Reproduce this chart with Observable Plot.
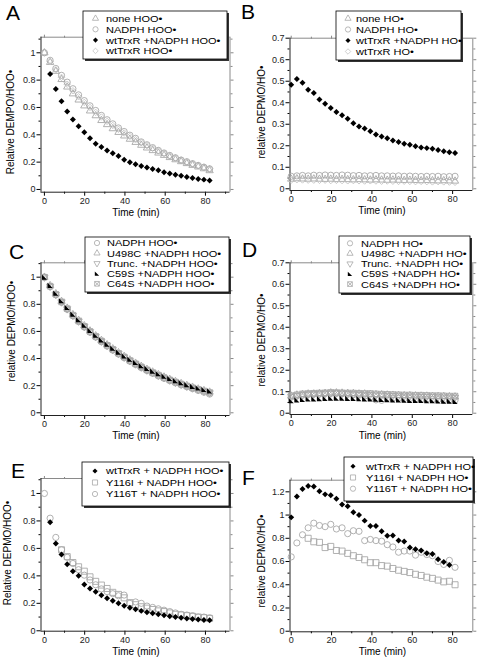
<!DOCTYPE html>
<html><head><meta charset="utf-8">
<script src="https://cdn.jsdelivr.net/npm/d3@7"></script>
<script src="https://cdn.jsdelivr.net/npm/@observablehq/plot@0.6"></script>
<style>
html,body{margin:0;padding:0;background:#fff;}
#fig{position:relative;width:477px;height:658px;overflow:hidden;font-family:"Liberation Sans",Arial,Helvetica,sans-serif;}
</style></head><body><div id="fig"></div>
<script>
// ---------- time axes (min) ----------
const timeA = [0,2.83,5.66,8.49,11.32,14.15,16.98,19.81,22.64,25.47,28.3,31.13,33.96,36.79,39.62,42.45,45.28,48.11,50.94,53.77,56.6,59.43,62.26,65.09,67.92,70.75,73.58,76.41,79.24,82.07];
const timeB = [0,2.8,5.6,8.4,11.2,14,16.8,19.6,22.4,25.2,28,30.8,33.6,36.4,39.2,42,44.8,47.6,50.4,53.2,56,58.8,61.6,64.4,67.2,70,72.8,75.6,78.4,81.2];

// ---------- panel A (HOO•) ----------
const aNone   = [1.0,0.93,0.865,0.805,0.75,0.70,0.655,0.612,0.575,0.54,0.505,0.475,0.445,0.418,0.392,0.368,0.345,0.324,0.304,0.285,0.267,0.25,0.234,0.218,0.204,0.19,0.177,0.165,0.152,0.138];
const aNADPH  = [1.0,0.945,0.885,0.835,0.785,0.737,0.692,0.65,0.612,0.578,0.542,0.51,0.48,0.45,0.424,0.397,0.374,0.348,0.327,0.306,0.286,0.267,0.249,0.232,0.215,0.203,0.189,0.176,0.163,0.151];
const aWTNADPH= [null,0.845,0.735,0.645,0.57,0.512,0.462,0.418,0.375,0.335,0.31,0.285,0.265,0.245,0.218,0.2,0.185,0.172,0.16,0.15,0.14,0.126,0.116,0.107,0.1,0.092,0.083,0.077,0.072,0.066];
const aWT     = [1.0,0.935,0.875,0.82,0.77,0.722,0.678,0.637,0.6,0.564,0.53,0.498,0.468,0.44,0.413,0.388,0.364,0.342,0.321,0.301,0.282,0.264,0.247,0.231,0.216,0.202,0.189,0.176,0.164,0.153];

// ---------- panel B (HO•) ----------
const bNone   = [0.045,0.047,0.046,0.045,0.046,0.045,0.044,0.045,0.043,0.044,0.043,0.042,0.043,0.042,0.041,0.042,0.041,0.04,0.041,0.04,0.039,0.04,0.039,0.038,0.039,0.038,0.037,0.038,0.037,0.036];
const bNADPH  = [0.058,0.06,0.062,0.06,0.063,0.062,0.064,0.063,0.062,0.064,0.063,0.061,0.062,0.06,0.061,0.062,0.06,0.06,0.059,0.06,0.058,0.059,0.058,0.057,0.058,0.057,0.058,0.056,0.057,0.058];
const bWTNADPH= [0.484,0.51,0.493,0.46,0.445,0.415,0.395,0.375,0.357,0.342,0.325,0.305,0.29,0.28,0.268,0.252,0.243,0.235,0.225,0.217,0.209,0.205,0.198,0.192,0.189,0.186,0.18,0.175,0.17,0.166];
const bWT     = [0.04,0.042,0.041,0.04,0.04,0.039,0.04,0.038,0.039,0.038,0.037,0.038,0.037,0.036,0.037,0.036,0.035,0.036,0.035,0.034,0.035,0.034,0.033,0.034,0.033,0.032,0.033,0.032,0.031,0.03];

// ---------- panel C (HOO•, mutants) ----------
const cNADPH = [1.0,0.93,0.87,0.815,0.763,0.715,0.672,0.632,0.594,0.558,0.524,0.492,0.462,0.433,0.406,0.38,0.356,0.333,0.311,0.291,0.272,0.254,0.237,0.221,0.206,0.192,0.178,0.165,0.152,0.138];
const cU498C = [1.0,0.938,0.878,0.822,0.772,0.724,0.682,0.642,0.604,0.568,0.534,0.502,0.472,0.443,0.416,0.39,0.366,0.343,0.321,0.301,0.282,0.264,0.247,0.231,0.216,0.202,0.189,0.176,0.164,0.153];
const cTrunc = [1.0,0.932,0.872,0.817,0.766,0.718,0.676,0.636,0.598,0.562,0.528,0.496,0.466,0.437,0.41,0.384,0.36,0.337,0.315,0.295,0.276,0.258,0.241,0.225,0.21,0.196,0.183,0.171,0.159,0.147];
const cC59S  = [1.0,0.94,0.882,0.826,0.776,0.728,0.686,0.646,0.608,0.572,0.538,0.506,0.476,0.447,0.42,0.395,0.371,0.348,0.327,0.307,0.288,0.27,0.253,0.237,0.222,0.208,0.195,0.183,0.172,0.162];
const cC64S  = [1.0,0.934,0.874,0.818,0.768,0.72,0.678,0.638,0.6,0.564,0.53,0.498,0.468,0.439,0.412,0.386,0.362,0.339,0.317,0.297,0.278,0.26,0.243,0.227,0.212,0.198,0.185,0.173,0.161,0.15];

// ---------- panel D (HO•, mutants) ----------
const dNADPH = [0.075,0.08,0.084,0.087,0.089,0.09,0.091,0.092,0.092,0.09,0.088,0.086,0.084,0.08,0.076,0.062,0.06,0.072,0.07,0.07,0.068,0.068,0.066,0.065,0.065,0.064,0.063,0.062,0.062,0.061];
const dU498C = [0.08,0.085,0.088,0.09,0.09,0.092,0.093,0.095,0.095,0.094,0.093,0.092,0.09,0.09,0.088,0.087,0.086,0.085,0.084,0.083,0.082,0.082,0.081,0.08,0.08,0.079,0.078,0.078,0.077,0.076];
const dTrunc = [0.078,0.082,0.086,0.088,0.09,0.09,0.092,0.093,0.094,0.093,0.092,0.09,0.089,0.088,0.087,0.085,0.084,0.083,0.082,0.081,0.08,0.08,0.079,0.078,0.078,0.077,0.076,0.075,0.075,0.074];
const dC59S  = [0.058,0.062,0.064,0.066,0.067,0.068,0.069,0.07,0.07,0.07,0.069,0.069,0.068,0.067,0.066,0.065,0.064,0.063,0.062,0.062,0.061,0.06,0.06,0.059,0.058,0.058,0.057,0.056,0.056,0.055];
const dC64S  = [0.082,0.086,0.09,0.092,0.093,0.094,0.095,0.097,0.096,0.095,0.094,0.094,0.093,0.092,0.092,0.09,0.089,0.088,0.087,0.086,0.085,0.085,0.084,0.084,0.083,0.082,0.082,0.081,0.08,0.08];

// ---------- panel E (HOO•, Y116 mutants) ----------
const eWT    = [null,0.79,0.636,0.556,0.485,0.434,0.40,0.337,0.308,0.284,0.258,0.237,0.218,0.2,0.182,0.168,0.156,0.145,0.135,0.127,0.12,0.113,0.106,0.1,0.095,0.09,0.086,0.082,0.079,0.076];
const eY116I = [null,null,null,0.59,0.54,0.497,0.466,0.434,0.393,0.36,0.333,0.308,0.28,0.265,0.24,0.205,0.19,0.175,0.165,0.155,0.145,0.14,0.13,0.12,0.115,0.11,0.105,0.1,0.095,0.09];
const eY116T = [1.0,0.82,0.68,0.59,0.535,0.49,0.445,0.405,0.37,0.335,0.305,0.285,0.27,0.255,0.26,0.2,0.21,0.2,0.18,0.17,0.16,0.15,0.14,0.13,0.12,0.115,0.11,0.1,0.1,0.095];

// ---------- panel F (HO•, Y116 mutants) ----------
const fWT    = [0.98,1.16,1.225,1.25,1.245,1.205,1.178,1.17,1.14,1.09,1.075,1.025,1.0,0.952,0.905,0.905,0.86,0.822,0.825,0.78,0.772,0.72,0.705,0.695,0.672,0.665,0.62,0.595,0.57,null];
const fY116I = [null,null,null,0.80,0.77,0.765,0.72,0.73,0.695,0.69,0.67,0.65,0.635,0.615,0.59,0.59,0.565,0.56,0.54,0.525,0.515,0.505,0.49,0.48,0.465,0.455,0.44,0.425,0.43,0.40];
const fY116T = [0.64,0.76,0.83,0.89,0.93,0.91,0.90,0.92,0.88,0.89,0.84,0.865,0.86,0.78,0.79,0.78,0.775,0.745,0.725,0.68,0.69,0.69,0.655,0.68,0.66,0.65,0.60,0.575,0.61,0.55];

// ---------- tick values & labels ----------
const yTicks1 = [0,0.2,0.4,0.6,0.8,1];
const yMinor1 = [0.1,0.3,0.5,0.7,0.9,1.1];
const yTicks07 = [0,0.1,0.2,0.3,0.4,0.5,0.6,0.7];
const yMinor07 = [0.05,0.15,0.25,0.35,0.45,0.55,0.65];
const yTicksF = [0,0.2,0.4,0.6,0.8,1,1.2];
const yMinorF = [0.1,0.3,0.5,0.7,0.9,1.1];
const xTicks = [0,20,40,60,80];
const xMinor = [10,30,50,70];

const legA = ["none HOO•","NADPH HOO•","wtTrxR +NADPH HOO•","wtTrxR HOO•"];
const legB = ["none HO•","NADPH HO•","wtTrxR +NADPH HO•","wtTrxR HO•"];
const legC = ["NADPH HOO•","U498C +NADPH HOO•","Trunc. +NADPH HOO•","C59S +NADPH HOO•","C64S +NADPH HOO•"];
const legD = ["NADPH HO•","U498C +NADPH HO•","Trunc. +NADPH HO•","C59S +NADPH HO•","C64S +NADPH HO•"];
const legE = ["wtTrxR + NADPH HOO•","Y116I + NADPH HOO•","Y116T + NADPH HOO•"];
const legF = ["wtTrxR + NADPH HO•","Y116I + NADPH HO•","Y116T + NADPH HO•"];

// ---------- symbols ----------
const triDownSym = {draw(ctx, size){ const y = -Math.sqrt(size/(Math.sqrt(3)*3)); ctx.moveTo(0,-y*2); ctx.lineTo(-Math.sqrt(3)*y, y); ctx.lineTo(Math.sqrt(3)*y, y); ctx.closePath(); }};
const halfTriSym = {draw(ctx, size){ const h = Math.sqrt(size)/2; ctx.moveTo(-h,-h); ctx.lineTo(-h,h); ctx.lineTo(h,h); ctx.closePath(); }};
const squareXSym = {draw(ctx, size){ const h = Math.sqrt(size)/2; ctx.moveTo(-h,-h); ctx.lineTo(h,-h); ctx.lineTo(h,h); ctx.lineTo(-h,h); ctx.closePath(); ctx.moveTo(-h,-h); ctx.lineTo(h,h); ctx.moveTo(h,-h); ctx.lineTo(-h,h); }};
const gray = "#a8a8a8", lightGray = "#c4c4c4";
const S = {
  triUp:   {symbol:"triangle", r:2.7, fill:"none", stroke:gray},
  triDown: {symbol:triDownSym, r:2.7, fill:"none", stroke:gray},
  circle:  {symbol:"circle", r:3.1, fill:"none", stroke:gray},
  bDiam:   {symbol:"diamond2", r:2.7, fill:"#000", stroke:"none"},
  gDiam:   {symbol:"diamond2", r:2.9, fill:"none", stroke:lightGray},
  half:    {symbol:halfTriSym, r:2.9, fill:"#000", stroke:"none"},
  sqX:     {symbol:squareXSym, r:3.1, fill:"none", stroke:gray},
  square:  {symbol:"square", r:3.4, fill:"none", stroke:gray}
};
const d3Sym = {circle:d3.symbolCircle, triangle:d3.symbolTriangle, diamond2:d3.symbolDiamond2, square:d3.symbolSquare};

const FONT = '"Liberation Sans", Arial, Helvetica, sans-serif';
const fig = document.getElementById("fig");

function panel(o){
  const [mt, mr, mb, ml] = o.m;
  const blank = () => "";
  const marks = [
    Plot.axisY({anchor:"left", ticks:o.yT, tickSize:4, tickPadding:1.5, tickFormat:d=>String(d), label:null, fill:"#222"}),
    Plot.axisY({anchor:"left", ticks:o.yM, tickSize:2, tickFormat:blank, label:null}),
    Plot.axisY({anchor:"right", ticks:o.yT, tickSize:3, tickFormat:blank, label:null, stroke:"#888"}),
    Plot.axisY({anchor:"right", ticks:o.yM, tickSize:2, tickFormat:blank, label:null, stroke:"#888"}),
    Plot.axisX({anchor:"bottom", ticks:xTicks, tickSize:4, tickPadding:1, tickFormat:d=>String(d), label:null, fill:"#222"}),
    Plot.axisX({anchor:"bottom", ticks:o.xM, tickSize:2, tickFormat:blank, label:null}),
    Plot.axisX({anchor:"top", ticks:xTicks, tickSize:3, tickFormat:blank, label:null, stroke:"#888"}),
    Plot.axisX({anchor:"top", ticks:o.xM, tickSize:2, tickFormat:blank, label:null, stroke:"#888"}),
    Plot.ruleX([o.xd[1]], {stroke:"#8a8a8a"}),
    Plot.ruleY([o.yd[1]], {stroke:"#8a8a8a"}),
    Plot.ruleX([o.xd[0]], {stroke:"#222"}),
    Plot.ruleY([o.yd[0]], {stroke:"#222"}),
    ...o.series.map(s => Plot.dot(s.y, {x:s.x, y:s.y, symbol:s.st.symbol, r:s.st.r, fill:s.st.fill, stroke:s.st.stroke, strokeWidth:0.9}))
  ];
  const p = Plot.plot({
    width:o.w, height:o.h, marginTop:mt, marginRight:mr, marginBottom:mb, marginLeft:ml,
    x:{domain:o.xd}, y:{domain:o.yd},
    style:{position:"absolute", left:o.left+"px", top:o.top+"px", overflow:"visible", background:"transparent", fontFamily:FONT, fontSize:"9px", color:"#000"},
    marks
  });
  fig.appendChild(p);
}

const xdL = [-1.7,92.2], xdR = [-0.6,90];
panel({left:0, top:0, w:238, h:220, m:[36.7,8.5,28.3,40.5], xd:xdL, yd:[-0.02,1.114], yT:yTicks1, yM:yMinor1, xM:xMinor.concat([90]),
  series:[{x:timeA,y:aNone,st:S.triUp},{x:timeA,y:aWT,st:S.gDiam},{x:timeA,y:aNADPH,st:S.circle},{x:timeA,y:aWTNADPH,st:S.bDiam}]});
panel({left:238, top:0, w:239, h:220, m:[37.7,4.7,30,51.5], xd:xdR, yd:[-0.008,0.7], yT:yTicks07, yM:yMinor07, xM:xMinor,
  series:[{x:timeB,y:bNone,st:S.triUp},{x:timeB,y:bWT,st:S.gDiam},{x:timeB,y:bNADPH,st:S.circle},{x:timeB,y:bWTNADPH,st:S.bDiam}]});
panel({left:0, top:220, w:238, h:220, m:[42.3,8.5,25,40.5], xd:xdL, yd:[-0.02,1.106], yT:yTicks1, yM:yMinor1, xM:xMinor.concat([90]),
  series:[{x:timeA,y:cNADPH,st:S.circle},{x:timeA,y:cU498C,st:S.triUp},{x:timeA,y:cTrunc,st:S.triDown},{x:timeA,y:cC64S,st:S.sqX},{x:timeA,y:cC59S,st:S.half}]});
panel({left:238, top:220, w:239, h:220, m:[42.3,4.7,26,51.5], xd:xdR, yd:[-0.006,0.7], yT:yTicks07, yM:yMinor07, xM:xMinor,
  series:[{x:timeB,y:dNADPH,st:S.circle},{x:timeB,y:dU498C,st:S.triUp},{x:timeB,y:dTrunc,st:S.triDown},{x:timeB,y:dC64S,st:S.sqX},{x:timeB,y:dC59S,st:S.half}]});
panel({left:0, top:438, w:238, h:220, m:[40,8.5,27.3,40.5], xd:xdL, yd:[-0.003,1.109], yT:yTicks1, yM:yMinor1, xM:xMinor.concat([90]),
  series:[{x:timeA,y:eY116I,st:S.square},{x:timeA,y:eY116T,st:S.circle},{x:timeA,y:eWT,st:S.bDiam}]});
panel({left:238, top:438, w:239, h:220, m:[41.7,4.7,26.7,51.5], xd:xdR, yd:[-0.005,1.30], yT:yTicksF, yM:yMinorF, xM:xMinor,
  series:[{x:timeB,y:fY116I,st:S.square},{x:timeB,y:fY116T,st:S.circle},{x:timeB,y:fWT,st:S.bDiam}]});

// ---------- overlay: letters, axis titles, legends ----------
const ov = d3.select(fig).append("svg").attr("width",477).attr("height",658)
  .style("position","absolute").style("left","0").style("top","0").style("overflow","visible")
  .attr("font-family", FONT);

[["A",6,20],["B",241,19],["C",9,259],["D",242,257],["E",11,478],["F",242,485]].forEach(([t,x,y]) =>
  ov.append("text").attr("x",x).attr("y",y).attr("font-size",21).text(t));

[["Relative DEMPO/HOO•",10.5,122],["relative DEPMO/HO•",261,112],["relative DEPMO/HOO•",11,331],
 ["relative DEPMO/HO•",261,340],["Relative DEPMO/HOO•",7.5,553],["relative DEPMO/HO•",261,561]].forEach(([t,x,y]) =>
  ov.append("text").attr("transform",`translate(${x},${y}) rotate(-90)`).attr("text-anchor","middle").attr("dy","0.35em").attr("font-size",10).text(t));

[[136,215.5],[382,214],[136,439],[382.5,438.5],[136,654.5],[382.5,655]].forEach(([x,y]) =>
  ov.append("text").attr("x",x).attr("y",y).attr("text-anchor","middle").attr("font-size",10).text("Time (min)"));

function legend(box, sx, tx, rows, labels, syms){
  const [x,y,w,h] = box;
  ov.append("rect").attr("x",x+2).attr("y",y+2).attr("width",w).attr("height",h).attr("fill","#333");
  ov.append("rect").attr("x",x).attr("y",y).attr("width",w).attr("height",h).attr("fill","#fff").attr("stroke","#000").attr("stroke-width",0.8);
  labels.forEach((lab,i) => {
    const st = syms[i];
    const type = typeof st.symbol === "string" ? d3Sym[st.symbol] : st.symbol;
    const r = st.r*0.85;
    ov.append("path").attr("transform",`translate(${sx},${rows[i]})`).attr("d", d3.symbol(type, Math.PI*r*r)())
      .attr("fill", st.fill).attr("stroke", st.stroke).attr("stroke-width",0.8);
    // text is measured at 11px, then drawn at 9.5px and stretched to the same width
    const t = ov.append("text").attr("x",tx).attr("y",rows[i]).attr("dy","0.36em").attr("font-size",11).text(lab);
    const len = t.node().getComputedTextLength();
    t.attr("font-size",9.5).attr("textLength",len).attr("lengthAdjust","spacingAndGlyphs");
  });
}
legend([83,11,144,48], 95.5, 106, [18.5,29.3,40.1,50.9], legA, [S.triUp,S.circle,S.bDiam,S.gDiam]);
legend([336,11,125,49], 348, 356, [18.5,29.5,40.5,51.5], legB, [S.triUp,S.circle,S.bDiam,S.gDiam]);
legend([85,237,144,55], 97, 107, [243,253.2,263.4,273.6,283.8], legC, [S.circle,S.triUp,S.triDown,S.half,S.sqX]);
legend([339,236,131,57], 350, 361, [243.3,253.5,263.7,273.9,284.1], legD, [S.circle,S.triUp,S.triDown,S.half,S.sqX]);
legend([82,462,147,44], 95, 106, [471,482.5,494], legE, [S.bDiam,S.square,S.circle]);
legend([344,457,129,44], 353, 366, [466.3,477.5,488.7], legF, [S.bDiam,S.square,S.circle]);
</script>
</body></html>
